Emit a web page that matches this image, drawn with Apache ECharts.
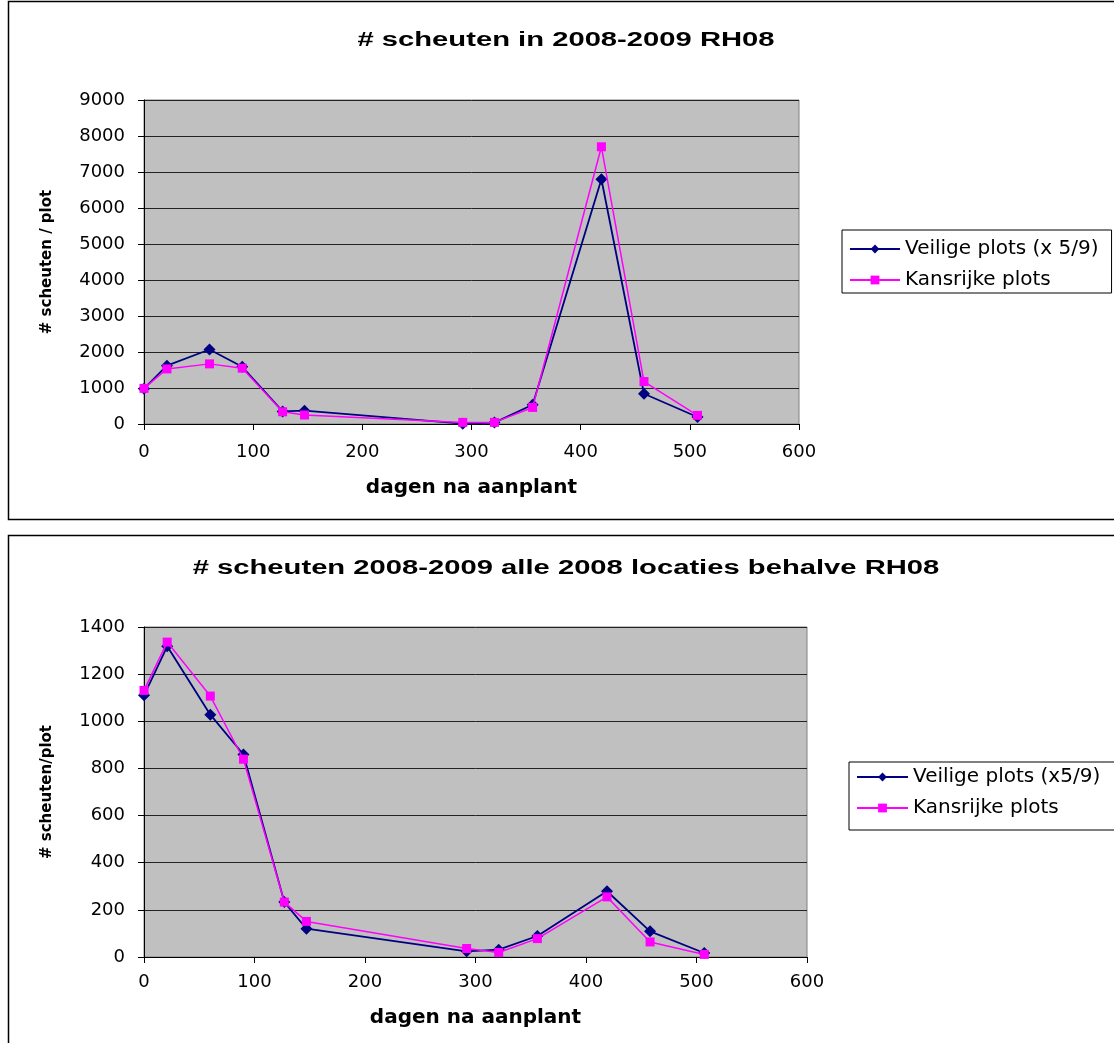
<!DOCTYPE html>
<html>
<head>
<meta charset="utf-8">
<script src="https://cdn.jsdelivr.net/npm/echarts@6/dist/echarts.min.js"></script>
<style>
  html, body { margin: 0; padding: 0; background: #fff; }
  #chart { width: 1114px; height: 1043px; }
</style>
</head>
<body>
<div id="chart"></div>
<script>
// Days after planting (shared x values)
const days = [0, 21, 60, 90, 127, 147, 292, 321, 356, 419, 458, 507];

// Top chart: RH08
const title1 = '# scheuten in 2008-2009 RH08';
const veilige1Name = 'Veilige plots (x 5/9)';
const kansrijke1Name = 'Kansrijke plots';
const veilige1 = [980, 1620, 2070, 1590, 350, 370, 10, 40, 536, 6800, 840, 195];
const kansrijke1 = [990, 1530, 1670, 1550, 340, 250, 45, 45, 460, 7700, 1180, 240];
const yName1 = '# scheuten / plot';

// Bottom chart: all 2008 locations except RH08
const title2 = '# scheuten 2008-2009 alle 2008 locaties behalve RH08';
const veilige2Name = 'Veilige plots (x5/9)';
const kansrijke2Name = 'Kansrijke plots';
const veilige2 = [1110, 1318, 1028, 859, 233, 120, 24, 31, 89, 279, 109, 17];
const kansrijke2 = [1131, 1336, 1107, 839, 233, 151, 36, 19, 78, 255, 64, 11];
const yName2 = '# scheuten/plot';

const xName = 'dagen na aanplant';

const FONT = '"DejaVu Sans", Verdana, sans-serif';
const TFONT = '"Liberation Sans", Arial, sans-serif';
const pairs = (xs, ys) => xs.map((x, i) => [x, ys[i]]);

const chart = echarts.init(document.getElementById('chart'), null, { renderer: 'canvas' });

function xAxisCfg(gridIndex, labelMargin, nameGap) {
  return {
    gridIndex, type: 'value', min: 0, max: 600, interval: 100,
    name: xName, nameLocation: 'middle', nameGap,
    nameTextStyle: { fontFamily: FONT, fontWeight: 'bold', fontSize: 20, color: '#000' },
    axisLine: { show: true, onZero: false, lineStyle: { color: '#000', width: 1 } },
    axisTick: { show: true, inside: false, length: 6, lineStyle: { color: '#000' } },
    axisLabel: { fontFamily: FONT, fontSize: 18, color: '#000', margin: labelMargin },
    splitLine: { show: false }
  };
}
function yAxisCfg(gridIndex, max, interval, name) {
  return {
    gridIndex, type: 'value', min: 0, max, interval,
    name, nameLocation: 'middle', nameRotate: 90, nameGap: 89,
    nameTextStyle: { fontFamily: FONT, fontWeight: 'bold', fontSize: 15, color: '#000' },
    axisLine: { show: true, lineStyle: { color: '#000', width: 1 } },
    axisTick: { show: true, inside: false, length: 6, lineStyle: { color: '#000' } },
    axisLabel: { fontFamily: FONT, fontSize: 18, color: '#000', margin: 19, formatter: v => String(v) },
    splitLine: { show: true, lineStyle: { color: '#222', width: 1 } }
  };
}
function seriesPair(xi, vName, vData, kName, kData) {
  return [
    {
      name: vName, type: 'line', xAxisIndex: xi, yAxisIndex: xi,
      data: pairs(days, vData), symbol: 'diamond', symbolSize: 12,
      itemStyle: { color: '#000080' }, lineStyle: { color: '#000080', width: 1.8 },
      animation: false, z: 3
    },
    {
      name: kName, type: 'line', xAxisIndex: xi, yAxisIndex: xi,
      data: pairs(days, kData), symbol: 'rect', symbolSize: 9,
      itemStyle: { color: '#FF00FF' }, lineStyle: { color: '#FF00FF', width: 1.5 },
      animation: false, z: 4
    }
  ];
}

const option = {
  animation: false,
  backgroundColor: '#fff',
  grid: [
    { left: 144, top: 100, width: 655, height: 324, show: true, backgroundColor: '#C0C0C0', borderColor: '#808080', borderWidth: 1 },
    { left: 144, top: 627, width: 663, height: 330, show: true, backgroundColor: '#C0C0C0', borderColor: '#808080', borderWidth: 1 }
  ],
  xAxis: [xAxisCfg(0, 19, 54), xAxisCfg(1, 16, 51)],
  yAxis: [yAxisCfg(0, 9000, 1000, yName1), yAxisCfg(1, 1400, 200, yName2)],
  legend: [
    {
      data: [veilige1Name, kansrijke1Name], orient: 'vertical', left: 842, top: 230,
      borderColor: '#000', borderWidth: 1, padding: [9, 13, 3, 7], itemWidth: 50, itemHeight: 11, itemGap: 11,
      textStyle: { fontFamily: FONT, fontSize: 20, color: '#000' }
    },
    {
      data: [veilige2Name, kansrijke2Name], orient: 'vertical', left: 849, top: 762,
      borderColor: '#000', borderWidth: 1, padding: [5, 60, 12, 7], itemWidth: 51, itemHeight: 11, itemGap: 11,
      textStyle: { fontFamily: FONT, fontSize: 20, color: '#000' }
    }
  ],
  graphic: [
    { type: 'rect', silent: true, z: -10, shape: { x: 8.5, y: 1.5, width: 1200, height: 518 }, style: { fill: null, stroke: '#000', lineWidth: 1.5 } },
    { type: 'rect', silent: true, z: -10, shape: { x: 8.5, y: 535.5, width: 1200, height: 600 }, style: { fill: null, stroke: '#000', lineWidth: 1.5 } },
    { type: 'text', x: 566, y: 40, scaleX: 1.46, style: { text: title1, textAlign: 'center', textVerticalAlign: 'middle', font: 'bold 20px ' + TFONT, fill: '#000' } },
    { type: 'text', x: 566, y: 568, scaleX: 1.46, style: { text: title2, textAlign: 'center', textVerticalAlign: 'middle', font: 'bold 20px ' + TFONT, fill: '#000' } }
  ],
  series: [
    ...seriesPair(0, veilige1Name, veilige1, kansrijke1Name, kansrijke1),
    ...seriesPair(1, veilige2Name, veilige2, kansrijke2Name, kansrijke2)
  ]
};
chart.setOption(option);
</script>
</body>
</html>
